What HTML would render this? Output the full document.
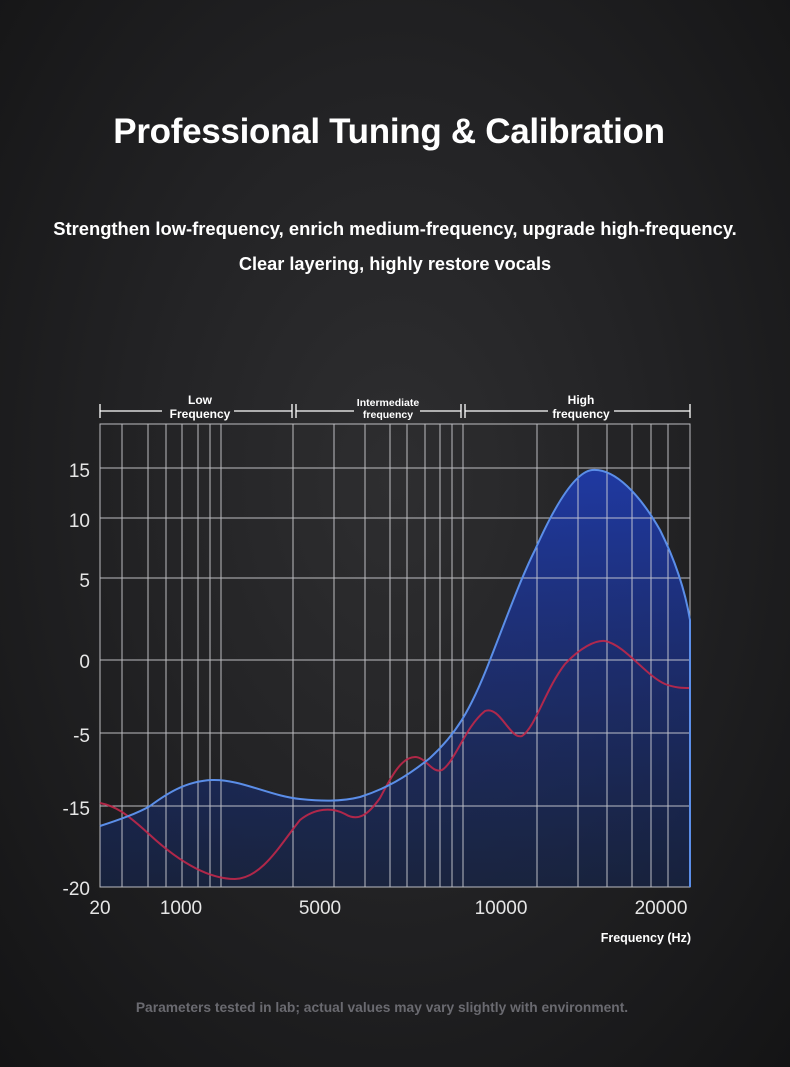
<!DOCTYPE html>
<html><head><meta charset="utf-8"><style>
html,body{margin:0;padding:0}
body{width:790px;height:1067px;overflow:hidden;background:radial-gradient(ellipse at 50% 45%,#2e2e30 0%,#232325 45%,#141415 100%);font-family:"Liberation Sans","DejaVu Sans",sans-serif;position:relative}
.t{position:absolute;left:0;width:790px;text-align:center;color:#fff;font-weight:bold}
</style></head><body>
<div class="t" style="top:112px;left:-6px;font-size:35px;letter-spacing:-0.3px">Professional Tuning &amp; Calibration</div>
<div class="t" style="top:218px;font-size:18.4px;letter-spacing:0px">Strengthen low-frequency, enrich medium-frequency, upgrade high-frequency.</div>
<div class="t" style="top:254px;left:0px;font-size:18.2px;letter-spacing:0px">Clear layering, highly restore vocals</div>
<svg width="790" height="1067" style="position:absolute;left:0;top:0" font-family="Liberation Sans, DejaVu Sans, sans-serif">
<defs>
<linearGradient id="bf" x1="0" y1="0" x2="0" y2="1">
<stop offset="0" stop-color="#1f3aa8" stop-opacity="0.95"/>
<stop offset="0.5" stop-color="#1a2f80" stop-opacity="0.75"/>
<stop offset="1" stop-color="#142550" stop-opacity="0.6"/>
</linearGradient>
</defs>
<g stroke="#fff" stroke-width="1.3" fill="none">
<path d="M100 411H162M234 411H292M296 411H354M420 411H461M465 411H548M614 411H690"/>
<path d="M100 404V418M292 404V418M296 404V418M461 404V418M465 404V418M690 404V418"/>
</g>
<g fill="#fff" font-weight="bold" text-anchor="middle">
<text x="200" y="404" font-size="12">Low</text><text x="200" y="418" font-size="12">Frequency</text>
<text x="388" y="406" font-size="10.5">Intermediate</text><text x="388" y="418" font-size="10.5">frequency</text>
<text x="581" y="404" font-size="12">High</text><text x="581" y="418" font-size="12">frequency</text>
</g>
<path d="M100 826 C125 818 140 812 150 806 C165 795 185 781 212 780 C240 779 270 796 300 799 C320 801 340 802 360 797 C385 789 405 778 430 758 C455 735 470 712 490 660 C505 622 520 580 535 550 C555 505 575 472 592 470 C615 468 640 495 660 530 C675 560 685 590 690 620 L690 887 L100 887 Z" fill="url(#bf)"/>
<g stroke="#d8d8dc" stroke-width="1" fill="none" opacity="0.85">
<rect x="100" y="424" width="590" height="463"/>
<path d="M122 424V887M148 424V887M166 424V887M182 424V887M198 424V887M210 424V887M221 424V887M293 424V887M334 424V887M365 424V887M390 424V887M407 424V887M425 424V887M440 424V887M452 424V887M463 424V887M537 424V887M578 424V887M607 424V887M632 424V887M651 424V887M668 424V887"/>
<path d="M100 468H690M100 518H690M100 578H690M100 660H690M100 733H690M100 806H690"/>
</g>
<path d="M100 803 C115 806 125 812 150 835 C175 858 205 879 235 879 C262 878 280 845 300 820 C315 808 332 807 345 814 C358 822 368 815 380 798 C392 775 402 757 415 757 C426 757 432 774 442 770 C455 762 465 727 485 711 C500 705 510 740 522 736 C535 728 545 690 565 664 C580 648 595 640 605 641 C625 645 645 675 665 684 C675 688 683 688 690 688" stroke="#c0284a" stroke-width="2" fill="none" opacity="0.9"/>
<path d="M100 826 C125 818 140 812 150 806 C165 795 185 781 212 780 C240 779 270 796 300 799 C320 801 340 802 360 797 C385 789 405 778 430 758 C455 735 470 712 490 660 C505 622 520 580 535 550 C555 505 575 472 592 470 C615 468 640 495 660 530 C675 560 685 590 690 620 L690 887" stroke="#5b8ee8" stroke-width="2" fill="none"/>
<g fill="#e6e6e6" font-size="19" text-anchor="end">
<text x="90" y="477">15</text><text x="90" y="527">10</text><text x="90" y="587">5</text><text x="90" y="668">0</text><text x="90" y="742">-5</text><text x="90" y="815">-15</text><text x="90" y="895">-20</text>
</g>
<g fill="#e6e6e6" font-size="19" text-anchor="middle">
<text x="100" y="914">20</text><text x="181" y="914">1000</text><text x="320" y="914">5000</text><text x="501" y="914">10000</text><text x="661" y="914">20000</text>
</g>
<text x="691" y="942" fill="#fff" font-size="12.5" font-weight="bold" text-anchor="end">Frequency (Hz)</text>
<text x="382" y="1012" fill="#6a6a70" font-size="13.8" font-weight="bold" text-anchor="middle">Parameters tested in lab; actual values may vary slightly with environment.</text>
</svg>
</body></html>
